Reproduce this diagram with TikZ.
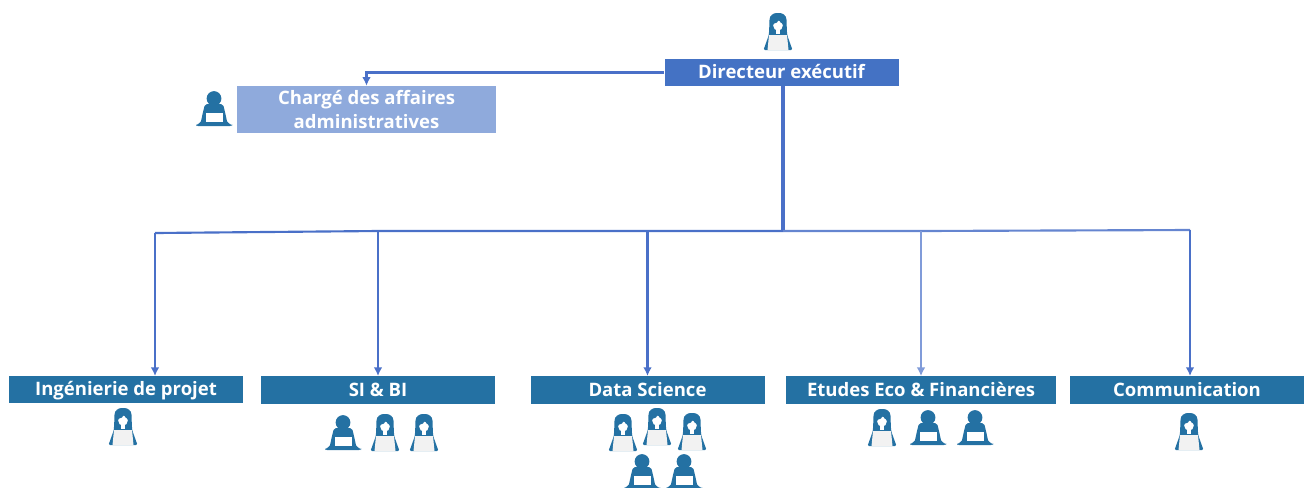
\documentclass[tikz,border=0pt]{standalone}
\usepackage{fontspec}
\setmainfont{Open Sans}
\usetikzlibrary{arrows.meta}
\definecolor{bleudir}{HTML}{4472C4}
\definecolor{bleuclair}{HTML}{8FAADC}
\definecolor{bleupole}{HTML}{2471A3}
\definecolor{bleulien}{HTML}{4A70C8}
\tikzset{
  boite/.style={text=white, font=\bfseries\fontsize{13.9}{17.6}\selectfont, inner sep=0pt, minimum width=175.5pt, minimum height=20.6pt},
  pole/.style={boite, fill=bleupole, text height=11pt, text depth=2pt},
  lien/.style={-{Latex[length=6.5pt,width=6.5pt]}, color=bleulien, line width=1.6pt},
  femme/.pic={
    \fill[bleupole, rounded corners=1pt] (-10,18) -- (-14.5,18) -- (-9.5,4) -- (-9,1) -- (-8.5,-11) .. controls (-8.5,-17) and (-4,-19) .. (0,-19) .. controls (4,-19) and (8.5,-17) .. (8.5,-11) -- (9,1) -- (9.5,4) -- (14.5,18) -- (10,18) -- cycle;
    \fill[white] (0,-6.5) ellipse (4.8 and 5.2);
    \fill[white] (-2.2,-3) rectangle (2.2,2);
    \fill[bleupole] (-5,-8) .. controls (-2,-8.5) and (0,-10) .. (1,-12) .. controls (2,-10) and (3,-8.5) .. (5,-8) -- (5,-12) -- (0,-14) -- (-5,-12) -- cycle;
    \fill[gray!10] (-9,3) -- (9,3) -- (10.5,18) -- (-10.5,18) -- cycle;
  },
  homme/.pic={
    \fill[bleupole] (0,-10.5) circle (7.4);
    \fill[bleupole, rounded corners=1.5pt] (-9,-5) -- (9,-5) -- (11,3) -- (13.5,14.5) -- (18,15) -- (18,17) -- (-18,17) -- (-18,15) -- (-13.5,14.5) -- (-11,3) -- cycle;
    \fill[white] (-8.5,3.5) rectangle (8.5,12.5);
  }
}
\begin{document}
\begin{tikzpicture}[x=0.75pt, y=-0.75pt]
\useasboundingbox (0,0) rectangle (1309,487);

\node (directeur) [boite, fill=bleudir, minimum height=20.2pt, text height=11pt, text depth=2pt] at (781.5,72.5) {Directeur exécutif};
\node (charge) [boite, fill=bleuclair, minimum width=194.25pt, minimum height=35.2pt, align=center] at (366.5,109.5) {Chargé des affaires\\administratives};
\node (ingenierie) [pole] at (126,389.5) {Ingénierie de projet};
\node (sibi) [pole] at (378,390) {SI \& BI};
\node (data) [pole] at (647.5,390) {Data Science};
\node (etudes) [pole, minimum width=202.5pt] at (921,390) {Etudes Eco \& Financières};
\node (comm) [pole] at (1187,390) {Communication};

\coordinate (hub) at (783,231);
\coordinate (brancheA) at (155,233);
\coordinate (brancheB) at (378,231);
\coordinate (brancheE) at (1190,230);
\coordinate (entreeA) at (155,376);
\coordinate (entreeE) at (1190,376);
\coordinate (sortie) at (783,86);

\draw[lien] (directeur.west) -| (charge.north);
\draw[color=bleulien, line width=3.4pt] (sortie) -- (hub);
\draw[color=bleulien, line width=1.6pt] (brancheA) -- (brancheB) -- (hub);
\draw[color=bleulien!85, line width=1.6pt] (hub) -- (921,231) -- (brancheE);
\draw[lien] (brancheA) -- (entreeA);
\draw[lien] (brancheB) -- (sibi.north);
\draw[lien] (data.north |- hub) -- (data.north);
\draw[lien, color=bleulien!70, line width=1pt] (etudes.north |- hub) -- (etudes.north);
\draw[lien] (brancheE) -- (entreeE);

\pic at (778,32) {femme};
\pic at (214,109) {homme};
\pic at (123,427) {femme};
\pic at (343,433) {homme};
\pic at (385,433) {femme};
\pic at (424,433) {femme};
\pic at (623,433) {femme};
\pic at (657,427) {femme};
\pic at (692,432) {femme};
\pic at (642,472) {homme};
\pic at (684,472) {homme};
\pic at (882,428) {femme};
\pic at (928,428) {homme};
\pic at (975,428) {homme};
\pic at (1189,432) {femme};
\end{tikzpicture}
\end{document}
